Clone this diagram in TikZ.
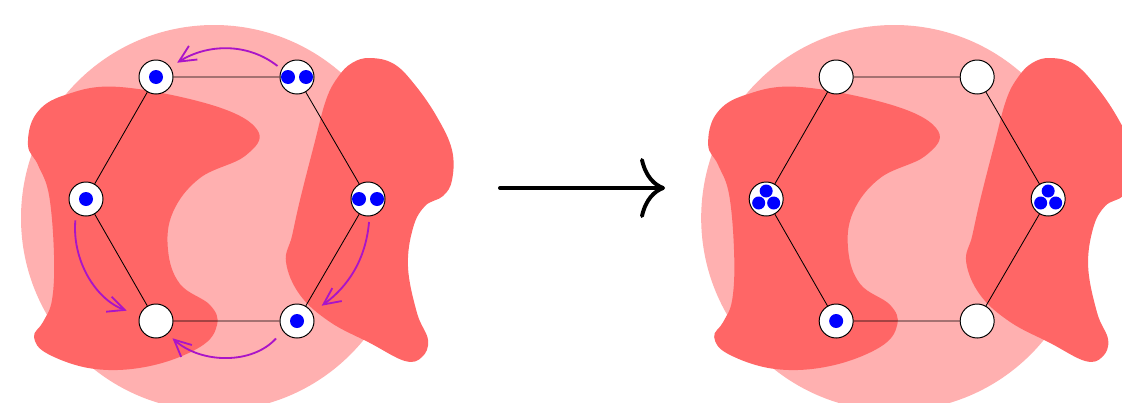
\documentclass[tikz,border=0pt]{standalone}
\usetikzlibrary{arrows.meta}
\definecolor{pinkc}{RGB}{255,176,176}
\definecolor{blobc}{RGB}{255,102,102}
\definecolor{arrc}{RGB}{170,20,200}
\newcommand\panelbackground{%
  \fill[pinkc] (214,-218) circle[radius=193];
  \fill[blobc] plot[smooth cycle,tension=0.65] coordinates {
    (28,-145) (36,-114) (65,-95) (120,-87) (215,-106) (258,-131) (245,-156)
    (200,-178) (173,-212) (168,-250) (180,-284) (210,-305) (217,-325)
    (200,-347) (150,-366) (95,-369) (48,-354) (34,-337) (43,-322)
    (52,-300) (54,-255) (49,-195) (38,-165)};
  \fill[blobc] plot[smooth cycle,tension=0.65] coordinates {
    (370,-58) (394,-64) (415,-85) (437,-117) (452,-150) (452,-180) (443,-196)
    (425,-206) (413,-228) (408,-267) (417,-313) (428,-340) (422,-357)
    (405,-361) (370,-343) (330,-322) (300,-295) (286,-262)
    (292,-236) (300,-200) (314,-145) (326,-100) (338,-77) (352,-63)};
}
\begin{document}
\begin{tikzpicture}[x=0.025cm,y=0.025cm,
  vert/.style={circle,draw=black,line width=0.7pt,fill=white,minimum size=0.85cm,inner sep=0pt},
  edge/.style={line width=0.6pt},
  dot/.style={fill=blue},
  parr/.style={draw=arrc,line width=1.3pt,-{Straight Barb[length=0.42cm,width=0.4cm]}},
  bigarr/.style={line width=2.8pt,line cap=round,-{Computer Modern Rightarrow[length=0.625cm,width=1.5cm]}}]
\clip (0,0) rectangle (1122,-402);
\fill[white] (0,0) rectangle (1122,-402);

% ---------- left panel ----------
\panelbackground
\node[vert] (tl) at (156,-77) {};
\node[vert] (tr) at (297,-77) {};
\node[vert] (l) at (86,-199) {};
\node[vert] (r) at (368,-199) {};
\node[vert] (bl) at (156,-321) {};
\node[vert] (br) at (297,-321) {};
\draw[edge] (tl) -- (tr) -- (r) -- (br) -- (bl) -- (l) -- (tl);
\fill[dot] (tl.center) circle[radius=7];
\fill[dot] ([shift={(-9,0)}]tr.center) circle[radius=7];
\fill[dot] ([shift={(9,0)}]tr.center) circle[radius=7];
\fill[dot] (l.center) circle[radius=7];
\fill[dot] ([shift={(-9,0)}]r.center) circle[radius=7];
\fill[dot] ([shift={(9,0)}]r.center) circle[radius=7];
\fill[dot] (br.center) circle[radius=7];
\draw[parr,shorten <=0.125cm,shorten >=0.2cm] (tr.153) to[out=142,in=32] (tl.35);
\draw[parr,shorten <=0.175cm,shorten >=0.34cm] (l.235) to[out=265,in=160] (bl.161);
\draw[parr,shorten <=0.25cm,shorten >=0.16cm] (br.215) to[out=228,in=318] (bl.312);
\draw[parr,shorten <=0.14cm,shorten >=0.29cm] (r.275) to[out=265,in=36] (br.29);

% ---------- big arrow ----------
\coordinate (as) at (500,-188);
\coordinate (ae) at (665,-188);
\draw[bigarr] (as) -- (ae);

% ---------- right panel ----------
\begin{scope}[xshift=17cm]
\panelbackground
\node[vert] (atl) at (156,-77) {};
\node[vert] (atr) at (297,-77) {};
\node[vert] (al) at (86,-199) {};
\node[vert] (ar) at (368,-199) {};
\node[vert] (abl) at (156,-321) {};
\node[vert] (abr) at (297,-321) {};
\draw[edge] (atl) -- (atr) -- (ar) -- (abr) -- (abl) -- (al) -- (atl);
\foreach \n in {al,ar}{
  \fill[dot] ([shift={(0,8)}]\n.center) circle[radius=6.5];
  \fill[dot] ([shift={(-7.5,-4)}]\n.center) circle[radius=6.5];
  \fill[dot] ([shift={(7.5,-4)}]\n.center) circle[radius=6.5];
}
\fill[dot] (abl.center) circle[radius=7];
\end{scope}
\end{tikzpicture}
\end{document}
